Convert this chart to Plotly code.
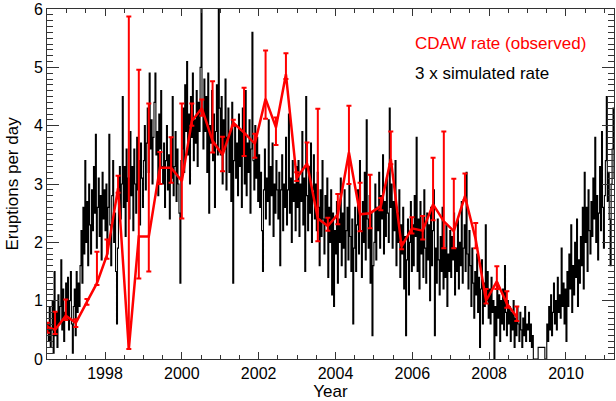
import numpy as np
import plotly.graph_objects as go

# Observed CDAW eruption rate (per day), roughly 100-day bins
cdaw_year = [1996.50, 1996.70, 1996.98, 1997.24, 1997.53, 1997.79, 1998.05, 1998.34,
             1998.62, 1998.88, 1999.14, 1999.43, 1999.72, 2000.00, 2000.26, 2000.52,
             2000.80, 2001.06, 2001.34, 2001.62, 2001.90, 2002.18, 2002.45, 2002.71,
             2002.99, 2003.26, 2003.54, 2003.80, 2004.06, 2004.35, 2004.64, 2004.90,
             2005.18, 2005.44, 2005.72, 2005.99, 2006.27, 2006.54, 2006.82, 2007.08,
             2007.37, 2007.65, 2007.92, 2008.20, 2008.46, 2008.72]
cdaw_rate = [0.55, 0.50, 0.74, 0.62, 0.98, 1.30, 1.78, 2.93,
             0.17, 2.10, 2.10, 3.28, 3.28, 3.05, 4.08, 4.30,
             3.74, 3.50, 4.05, 3.88, 3.69, 4.46, 3.97, 4.88,
             3.10, 3.35, 2.41, 2.28, 2.48, 3.54, 2.48, 2.50,
             2.62, 3.43, 1.93, 2.24, 2.20, 2.65, 2.36, 2.19,
             2.79, 2.05, 1.00, 1.33, 0.95, 0.72]
cdaw_err_plus = [0.07, 0.31, 0.28, 0.06, 0.05, 0.54, 0.27, 0.21,
                 5.70, 2.86, 2.28, 0.27, 0.52, 1.33, 0.30, 0.15,
                 1.02, 0.31, 0.05, 0.77, 0.17, 0.83, 0.17, 0.36,
                 0.10, 0.36, 1.88, 0.14, 0.35, 0.80, 0.54, 0.66,
                 0.14, 0.47, 0.07, 0.19, 0.25, 0.80, 1.54, 0.90,
                 0.39, 0.28, 0.20, 0.26, 0.21, 0.18]
cdaw_err_minus = [0.10, 0.07, 0.07, 0.07, 0.05, 0.03, 0.06, 0.08,
                  0.00, 0.72, 0.60, 0.28, 0.26, 0.64, 0.08, 0.13,
                  0.20, 0.28, 0.05, 0.40, 0.24, 0.34, 0.30, 0.08,
                  0.05, 0.05, 0.39, 0.08, 0.17, 0.54, 0.29, 0.26,
                  0.07, 0.09, 0.05, 0.09, 0.15, 0.27, 0.46, 0.29,
                  0.07, 0.15, 0.05, 0.13, 0.07, 0.07]

# Three times the simulated eruption rate, sampled every 0.025 yr from 1996.50
# (one row per half year)
sim_start = 1996.50
sim_step = 0.025
sim_rate = [
    0.6, 0.3, 0.9, 0.2, 0.5, 1.0, 0.1, 1.5, 0.4, 0.8, 0.2, 1.1, 0.6, 0.9, 1.7, 0.5, 1.2, 0.3, 0.8, 1.3,      # 1996.5
    0.7, 1.4, 0.5, 1.0, 1.5, 0.6, 0.1, 0.9, 1.2, 0.4, 1.5, 0.8, 1.3, 0.9, 1.6, 2.2, 1.3, 2.6, 1.8, 3.4,      # 1997.0
    2.0, 2.7, 1.6, 3.0, 2.3, 1.8, 2.9, 2.2, 3.3, 2.5, 3.85, 1.9, 2.6, 3.1, 2.1, 2.8, 1.7, 3.2, 2.4, 2.9,     # 1997.5
    2.2, 3.0, 1.8, 2.6, 3.85, 2.3, 1.6, 2.8, 3.4, 2.0, 2.5, 1.5, 0.6, 1.9, 2.7, 3.3, 2.4, 3.0, 4.5, 2.6,     # 1998.0
    3.3, 2.1, 3.6, 2.7, 3.1, 2.4, 3.9, 2.8, 3.3, 2.2, 3.6, 3.0, 2.5, 3.8, 2.9, 3.4, 2.3, 3.7, 3.1, 2.6,      # 1998.5
    3.4, 4.0, 2.9, 3.7, 4.3, 3.2, 4.9, 3.6, 4.1, 3.0, 3.8, 4.4, 4.9, 3.5, 3.9, 2.8, 4.2, 3.6, 4.6, 3.3,      # 1999.0
    3.0, 3.7, 2.6, 3.4, 4.0, 2.9, 3.5, 2.4, 3.8, 3.1, 4.5, 2.8, 3.3, 3.9, 2.7, 3.6, 3.0, 2.5, 1.3, 3.4,      # 1999.5
    3.6, 4.3, 3.2, 4.7, 3.9, 5.1, 3.5, 4.2, 3.0, 4.5, 3.8, 4.9, 3.4, 4.1, 3.7, 4.6, 3.3, 4.4, 3.9, 5.0,      # 2000.0
    6.2, 4.2, 3.6, 4.8, 3.9, 4.5, 3.2, 4.9, 2.5, 4.0, 3.7, 4.6, 3.4, 4.2, 2.6, 3.9, 4.7, 3.5, 6.1, 4.3,      # 2000.5
    3.5, 4.5, 3.0, 4.1, 3.6, 4.8, 2.9, 3.8, 4.3, 3.2, 3.9, 2.7, 4.4, 1.3, 3.4, 4.0, 3.1, 3.7, 2.8, 4.2,      # 2001.0
    3.3, 3.9, 2.6, 4.3, 3.5, 3.0, 4.6, 2.8, 3.7, 3.2, 4.1, 2.5, 3.6, 5.6, 3.4, 2.9, 4.0, 3.1, 3.8, 2.7,      # 2001.5
    3.5, 2.6, 3.2, 2.2, 1.5, 2.9, 3.6, 2.4, 3.1, 2.7, 4.1, 2.3, 3.3, 2.8, 3.7, 2.1, 3.0, 2.5, 3.4, 2.9,      # 2002.0
    2.4, 3.2, 1.6, 2.9, 3.5, 2.2, 3.0, 2.6, 3.8, 2.3, 2.9, 4.2, 2.5, 3.1, 2.0, 3.4, 2.7, 3.0, 2.2, 3.3,      # 2002.5
    2.6, 3.4, 2.1, 3.0, 2.7, 3.9, 2.3, 3.1, 1.5, 4.5, 2.8, 2.2, 3.3, 2.5, 3.7, 2.0, 2.9, 3.5, 2.4, 3.0,      # 2003.0
    2.2, 3.2, 2.6, 1.6, 2.9, 2.1, 3.4, 2.4, 1.8, 2.8, 2.3, 3.1, 1.4, 2.6, 2.0, 2.9, 1.1, 2.5, 0.9, 2.2,      # 2003.5
    1.8, 2.7, 1.3, 2.4, 2.0, 3.1, 1.6, 2.5, 1.9, 2.9, 1.4, 2.2, 2.6, 1.7, 3.0, 2.1, 1.5, 2.4, 0.6, 1.9,      # 2004.0
    2.6, 1.5, 2.3, 2.9, 1.8, 3.4, 2.2, 1.4, 2.7, 2.0, 3.2, 1.7, 4.1, 2.4, 1.9, 2.8, 1.3, 2.5, 0.4, 1.6,      # 2004.5
    2.0, 3.0, 1.7, 2.6, 2.2, 3.2, 1.9, 2.8, 2.4, 3.5, 1.8, 2.7, 2.1, 3.1, 2.5, 2.0, 4.3, 2.6, 3.0, 1.9,      # 2005.0
    2.7, 2.2, 3.4, 1.6, 2.5, 2.0, 2.9, 1.4, 2.3, 1.8, 2.6, 1.2, 2.1, 0.4, 1.7, 2.4, 1.1, 2.0, 2.7, 1.5,      # 2005.5
    2.3, 1.6, 2.8, 2.1, 3.8, 1.5, 2.4, 1.2, 2.7, 1.8, 2.2, 1.4, 2.9, 1.9, 1.3, 2.5, 1.7, 2.3, 1.0, 2.6,      # 2006.0
    1.6, 2.2, 2.9, 0.4, 1.9, 1.3, 2.4, 1.7, 1.1, 2.1, 1.5, 2.6, 1.2, 1.9, 1.4, 2.3, 0.9, 1.8, 1.5, 2.2,      # 2006.5
    1.4, 2.1, 1.7, 2.5, 1.1, 1.9, 1.5, 2.4, 1.2, 2.0, 1.6, 2.7, 1.3, 1.9, 2.3, 1.5, 3.2, 1.8, 1.2, 2.2,      # 2007.0
    1.6, 0.9, 1.9, 1.3, 0.7, 1.5, 1.1, 1.8, 0.8, 1.4, 0.2, 1.2, 1.7, 0.6, 1.3, 0.9, 2.3, 1.0, 1.5, 0.7,      # 2007.5
    1.2, 0.6, 1.4, 0.8, 1.0, -0.05, 0.9, 0.4, 1.3, 0.7, 1.1, 0.3, 1.0, 0.6, 1.2, 0.5, 1.6, 0.8, 0.4, 1.0,    # 2008.0
    0.6, 0.9, 0.3, 0.8, 0.5, 1.0, 0.2, 0.7, 0.4, 0.9, 0.6, 0.3, 0.8, 0.5, 0.2, 0.7, 0.4, 0.9, 0.3, 0.6,      # 2008.5
    0.5, 0.8, 0.3, 0.6, 0.2, 0.4, 0.0, 0.0, 0.0, 0.0, 0.0, 0.2, 0.2, 0.2, 0.2, 0.2, 0.2, 0.2, 0.0, 0.0,      # 2009.0
    0.6, 0.3, 0.9, 0.5, 1.1, 0.4, 0.8, 1.3, 0.6, 1.0, 0.5, 1.4, 0.8, 1.1, 0.7, 1.9, 0.9, 1.3, 0.6, 1.2,      # 2009.5
    0.3, 1.5, 0.9, 1.8, 1.2, 2.3, 0.8, 1.6, 1.1, 2.0, 1.4, 2.4, 0.9, 1.7, 1.3, 2.1, 1.6, 2.6, 1.2, 3.2,      # 2010.0
    2.0, 2.6, 1.5, 2.9, 2.2, 1.8, 2.7, 2.1, 3.1, 2.4, 3.8, 2.0, 2.8, 1.7, 2.5, 3.3, 2.2, 3.9, 2.6, 1.9,      # 2010.5
    2.8, 3.4, 4.5, 2.7, 3.2, 2.4, 1.6, 3.0, 3.6, 4.3, 3.1,                                                # 2011.0
]
sim_year = sim_start + sim_step * np.arange(len(sim_rate))

FONT = "Liberation Sans, Arial, Helvetica, sans-serif"
AXIS_COLOR = "#333333"

fig = go.Figure()

fig.add_trace(go.Scatter(
    x=sim_year, y=sim_rate, mode="lines",
    line=dict(color="black", width=1.1, shape="hv"),
    hoverinfo="skip",
))

fig.add_trace(go.Scatter(
    x=cdaw_year, y=cdaw_rate, mode="lines",
    line=dict(color="#ff0000", width=2.5),
    error_y=dict(type="data", symmetric=False,
                 array=cdaw_err_plus, arrayminus=cdaw_err_minus,
                 color="#ff0000", thickness=2, width=2.5),
))

axis_common = dict(
    showline=True, linecolor=AXIS_COLOR, linewidth=1, mirror="ticks",
    ticks="inside", tickcolor=AXIS_COLOR, tickwidth=1,
    showgrid=False, zeroline=False,
    tickfont=dict(family=FONT, size=16, color="black"),
)

fig.update_xaxes(
    range=[1996.49, 2011.25], tick0=0, dtick=2, ticklen=7,
    minor=dict(tick0=0, dtick=0.5, ticks="inside", ticklen=4, tickcolor=AXIS_COLOR),
    title=dict(text="Year", font=dict(family=FONT, size=17, color="black"), standoff=2),
    **axis_common,
)
fig.update_yaxes(
    range=[0, 6], tick0=0, dtick=1, ticklen=12,
    minor=dict(tick0=0, dtick=0.1, ticks="inside", ticklen=6, tickcolor=AXIS_COLOR),
    title=dict(text="Eruptions per day", font=dict(family=FONT, size=17, color="black"), standoff=10),
    **axis_common,
)

fig.add_annotation(x=0.6455, y=0.90, xref="paper", yref="paper",
                   xanchor="left", yanchor="middle", showarrow=False,
                   text="CDAW rate (observed)",
                   font=dict(family=FONT, size=17, color="#ff0000"))
fig.add_annotation(x=0.6455, y=0.817, xref="paper", yref="paper",
                   xanchor="left", yanchor="middle", showarrow=False,
                   text="3 x simulated rate",
                   font=dict(family=FONT, size=17, color="black"))

fig.update_layout(
    width=616, height=401,
    margin=dict(l=47, r=2, t=9, b=42),
    plot_bgcolor="white", paper_bgcolor="white",
    showlegend=False,
    font=dict(family=FONT, size=16, color="black"),
)

fig.write_html("out.html")
